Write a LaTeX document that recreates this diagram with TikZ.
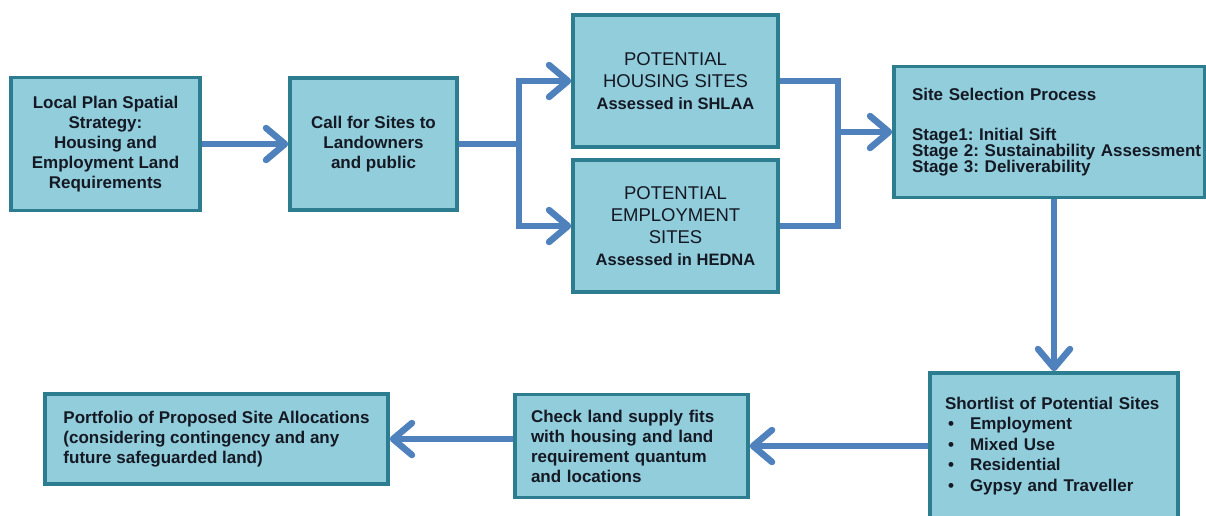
\documentclass[tikz,border=0pt]{standalone}
\usepackage{fontspec}
\setmainfont{Liberation Sans}
\frenchspacing
\usetikzlibrary{arrows.meta}
\definecolor{boxfill}{RGB}{146,205,220}
\definecolor{boxline}{RGB}{45,125,145}
\definecolor{flowblue}{RGB}{79,129,189}
\definecolor{ink}{RGB}{20,25,35}
\tikzset{box/.style={draw=boxline,fill=boxfill,line width=3.5pt,text=ink,inner sep=0pt,
  font=\bfseries\fontsize{17}{20}\selectfont}}
\tikzset{caps/.style={font=\fontsize{18.5}{22}\selectfont}}
\tikzset{flow/.style={draw=flowblue,line width=6.5pt,
  >={Straight Barb[length=19pt,width=32pt,round]}}}

\begin{document}
\begin{tikzpicture}[x=1pt,y=-1pt]
        \useasboundingbox (0,0) rectangle (1206,515);
        \fill[white] (0,0) rectangle (1206,515);
        \clip (0,0) rectangle (1206,515);
        \node[box,align=center,minimum width=189pt,minimum height=133pt] (local) at (105.5,144)
          {Local Plan Spatial\\ Strategy:\\ Housing and\\ Employment Land\\ Requirements};
        \node[box,align=center,minimum width=167pt,minimum height=132pt] (call) at (373.5,144)
          {Call for Sites to\\ Landowners\\ and public}
          edge [flow,<-] (local);
        \node[box,caps,align=center,minimum width=205pt,minimum height=132pt] (housing) at (675.5,81)
          {POTENTIAL\\ HOUSING SITES\\ {\bfseries\fontsize{16.5}{19}\selectfont Assessed in SHLAA}};
        \node[box,caps,align=center,minimum width=205pt,minimum height=132pt] (employ) at (675.5,226)
          {POTENTIAL\\ EMPLOYMENT\\ SITES\\ {\bfseries\fontsize{16.5}{19}\selectfont Assessed in HEDNA}};
        \node[box,font=\bfseries\fontsize{17}{16}\selectfont,align=left,inner xsep=18pt,text width=275pt,
          minimum width=311pt,minimum height=131pt] (select) at (1049.5,132)
          {Site Selection Process\\[24pt]
           Stage1: Initial Sift\\
           \mbox{Stage 2: Sustainability Assessment}\\
           Stage 3: Deliverability\\[3pt]};
        \node[box,font=\bfseries\fontsize{17}{20.5}\selectfont,align=left,inner xsep=15pt,text width=218pt,
          minimum width=248pt,minimum height=146pt] (shortlist) at (1054,446)
          {Shortlist of Potential Sites\\
           \hspace*{3pt}\makebox[22pt][l]{\textbullet}Employment\\
           \hspace*{3pt}\makebox[22pt][l]{\textbullet}Mixed Use\\
           \hspace*{3pt}\makebox[22pt][l]{\textbullet}Residential\\
           \hspace*{3pt}\makebox[22pt][l]{\textbullet}Gypsy and Traveller};
        \node[box,align=left,inner xsep=16pt,text width=201pt,
          minimum width=233pt,minimum height=103pt] (check) at (631.5,446)
          {Check land supply fits\\ with housing and land\\ requirement quantum\\ and locations}
          edge [flow,<-] (shortlist);
        \node[box,align=left,minimum width=343pt,minimum height=90pt] (portfolio) at (216.5,439)
          {Portfolio of Proposed Site Allocations\\ (considering contingency and any\\ future safeguarded land)};
        \coordinate (join) at (838,132);
        \draw[flow,->] (call.east) -- ++(60,0) |- (housing.west);
        \draw[flow,->] (call.east) -- ++(60,0) |- (employ.west);
        \draw[flow] (housing.east) -| (join) |- (employ.east);
        \draw[flow,->] (join) -- (select.west);
        \draw[flow,->] (select.south -| shortlist.north) -- (shortlist.north);
        \draw[flow,->] (check.west |- portfolio.east) -- (portfolio.east);
      \end{tikzpicture}
\end{document}
